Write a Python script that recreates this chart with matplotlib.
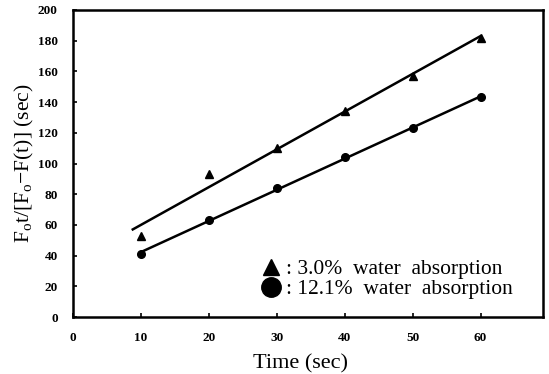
import numpy as np
import matplotlib
matplotlib.use("Agg")
import matplotlib.pyplot as plt
import matplotlib.lines as mlines

time_sec = [10, 20, 30, 40, 50, 60]
tri_values = [53, 93, 110, 134, 157, 182]    # 3.0% water absorption
circ_values = [41, 63, 84, 104, 123, 143]    # 12.1% water absorption
x_ticks = [0, 10, 20, 30, 40, 50, 60]
y_ticks = [0, 20, 40, 60, 80, 100, 120, 140, 160, 180, 200]
labels = [": 3.0%  water  absorption", ": 12.1%  water  absorption"]

plt.rcParams['font.family'] = ['Liberation Serif', 'DejaVu Serif']
plt.rcParams['mathtext.fontset'] = 'custom'
plt.rcParams['mathtext.rm'] = 'Liberation Serif'

fig = plt.figure(figsize=(5.49, 3.74), dpi=100)
ax = fig.add_axes([73/549, 1-317/374, (543-73)/549, (317-10)/374])

x = np.array(time_sec, dtype=float)
pt = np.polyfit(x, tri_values, 1)
pc = np.polyfit(x, circ_values, 1)
xt = np.array([8.8, 60.0])
xc = np.array([10.0, 60.0])
ax.plot(xt, np.polyval(pt, xt), color='black', lw=1.8)
ax.plot(xc, np.polyval(pc, xc), color='black', lw=1.8)
ax.plot(time_sec, tri_values, '^', color='black', ms=6, ls='none')
ax.plot(time_sec, circ_values, 'o', color='black', ms=5.5, ls='none')

ax.set_xlim(0, 69.2)
ax.set_ylim(0, 200)
ax.set_xticks(x_ticks)
ax.set_yticks(y_ticks)
ax.set_xticklabels([str(v) for v in x_ticks], fontweight='bold', fontsize=9.5)
ax.set_yticklabels([str(v) for v in y_ticks], fontweight='bold', fontsize=9.5)
ax.tick_params(direction='in', length=3, width=1.2)
ax.tick_params(axis='y', pad=11)
ax.tick_params(axis='x', pad=11)
for s in ax.spines.values():
    s.set_linewidth(1.8)

ax.set_xlabel("Time (sec)", fontsize=16, labelpad=6)
ax.xaxis.set_label_coords(0.485, -0.12)
ax.set_ylabel(r"F$_\mathrm{o}$t/[F$_\mathrm{o}$$-$F(t)] (sec)", fontsize=15.5, labelpad=1)

lh1 = mlines.Line2D([], [], marker='^', color='black', ls='none', ms=11)
lh2 = mlines.Line2D([], [], marker='o', color='black', ls='none', ms=14)
ax.legend([lh1, lh2], labels, loc='lower left', bbox_to_anchor=(0.38, 0.03),
          frameon=False, fontsize=15.5, handletextpad=0.2, labelspacing=0.0,
          handlelength=1.0, borderaxespad=0)

fig.savefig("out.png", dpi=100)
